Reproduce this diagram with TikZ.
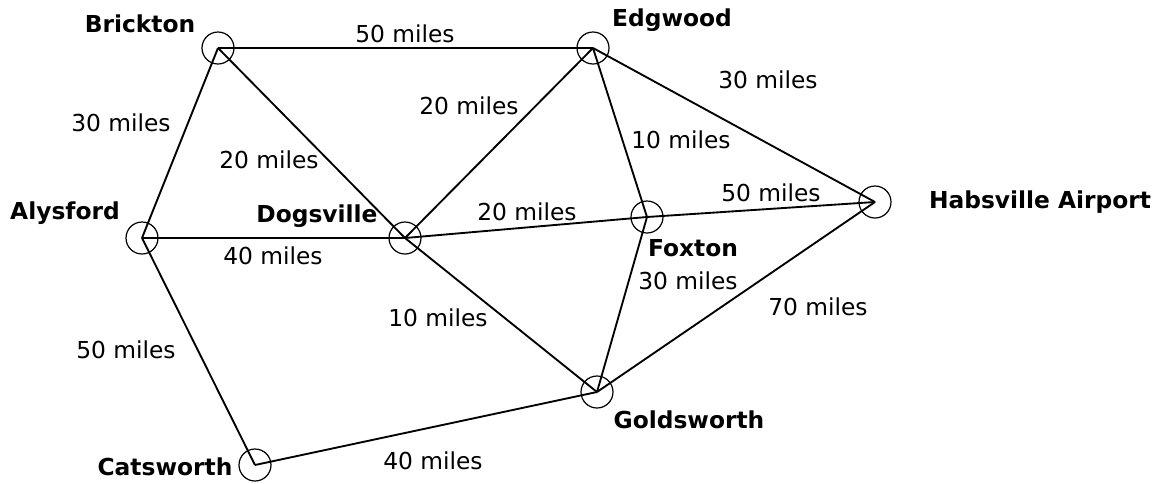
\documentclass[tikz,border=0pt]{standalone}
\usepackage{fontspec}
\setmainfont{DejaVu Sans}
\begin{document}
\begin{tikzpicture}[x=0.75pt,y=-0.75pt,
  town/.style={circle,draw,line width=0.9pt,minimum size=24pt,inner sep=0pt},
  road/.style={line width=1.4pt},
  townlabel/.style={font=\fontsize{17.5pt}{20pt}\selectfont\bfseries,inner sep=0pt},
  dist/.style={font=\fontsize{17.5pt}{20pt}\selectfont,inner sep=0pt}]
\useasboundingbox (0,0) rectangle (1165,483);
\node[town] (B) at (218,48) {};
\node[town] (A) at (142,238) {};
\node[town] (D) at (405,238) {};
\node[town] (E) at (593,48) {};
\node[town] (F) at (647,217) {};
\node[town] (H) at (875,202) {};
\node[town] (C) at (255,465) {};
\node[town] (G) at (597,392) {};
\draw[road] (B.center) -- (E.center);
\draw[road] (B.center) -- (A.center);
\draw[road] (B.center) -- (D.center);
\draw[road] (A.center) -- (D.center);
\draw[road] (A.center) -- (C.center);
\draw[road] (D.center) -- (E.center);
\draw[road] (D.center) -- (F.center);
\draw[road] (D.center) -- (G.center);
\draw[road] (E.center) -- (F.center);
\draw[road] (E.center) -- (H.center);
\draw[road] (F.center) -- (H.center);
\draw[road] (F.center) -- (G.center);
\draw[road] (G.center) -- (H.center);
\draw[road] (C.center) -- (G.center);
\node[townlabel] (nB) at (140,24) {Brickton};
\node[townlabel] (nE) at (672,20) {Edgwood};
\node[townlabel] (nH) at (1040,202) {Habsville Airport};
\node[townlabel] (nA) at (65,213) {Alysford};
\node[townlabel] (nD) at (317,216) {Dogsville};
\node[townlabel] (nF) at (693,248) {Foxton};
\node[townlabel] (nG) at (689,420) {Goldsworth};
\node[townlabel] (nC) at (165,467) {Catsworth};
\node[dist] (dBE) at (405,34) {50 miles};
\node[dist] (dEH) at (768,80) {30 miles};
\node[dist] (dBA) at (121,123) {30 miles};
\node[dist] (dDE) at (469,106) {20 miles};
\node[dist] (dEF) at (681,140) {10 miles};
\node[dist] (dBD) at (269,160) {20 miles};
\node[dist] (dFH) at (771,193) {50 miles};
\node[dist] (dDF) at (527,212) {20 miles};
\node[dist] (dAD) at (273,256) {40 miles};
\node[dist] (dFG) at (688,281) {30 miles};
\node[dist] (dGH) at (818,307) {70 miles};
\node[dist] (dDG) at (438,318) {10 miles};
\node[dist] (dAC) at (126,350) {50 miles};
\node[dist] (dCG) at (433,461) {40 miles};
\end{tikzpicture}
\end{document}
